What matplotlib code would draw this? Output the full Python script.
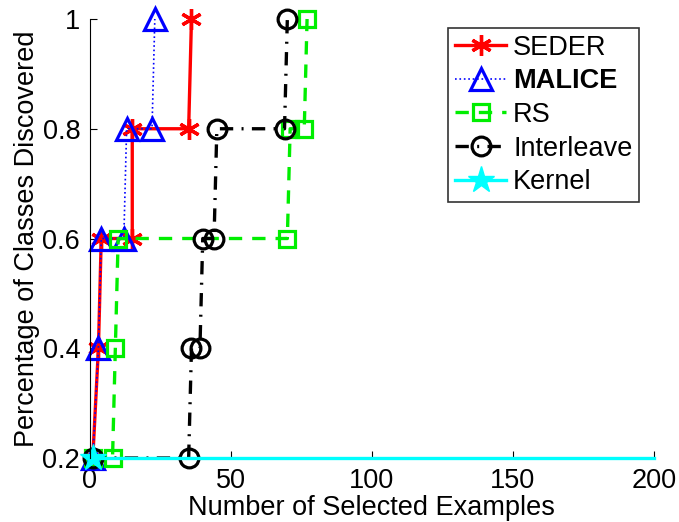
import matplotlib
matplotlib.use("Agg")
import matplotlib.pyplot as plt

plt.rcParams['font.family'] = ['Liberation Sans', 'DejaVu Sans']

# Data
seder_x = [1, 3, 4, 15, 15, 35, 36]
seder_y = [0.2, 0.4, 0.6, 0.6, 0.8, 0.8, 1.0]
malice_x = [1, 3, 4, 12, 13, 22, 23]
malice_y = [0.2, 0.4, 0.6, 0.6, 0.8, 0.8, 1.0]
rs_x = [1, 8, 9, 10, 70, 71, 76, 77]
rs_y = [0.2, 0.2, 0.4, 0.6, 0.6, 0.8, 0.8, 1.0]
inter_x = [1, 35, 36, 39, 40, 44, 45, 69, 70]
inter_y = [0.2, 0.2, 0.4, 0.4, 0.6, 0.6, 0.8, 0.8, 1.0]
kernel_x = [1, 200]
kernel_y = [0.2, 0.2]

xticks = [0, 50, 100, 150, 200]
yticks = [0.2, 0.4, 0.6, 0.8, 1.0]
yticklabels = ["0.2", "0.4", "0.6", "0.8", "1"]

FS = 19.5

fig = plt.figure(figsize=(6.79, 5.22), dpi=100)
ax = fig.add_axes([0.1325, 0.1226, 0.8305, 0.841])

l1, = ax.plot(seder_x, seder_y, color='red', linestyle='-', linewidth=2.4,
              marker=(6, 2, 0), markersize=15, markeredgewidth=2.4,
              label='SEDER', clip_on=False)
l2, = ax.plot(malice_x, malice_y, color='blue', linestyle=':', linewidth=1.2,
              marker='^', markersize=16, markerfacecolor='none',
              markeredgewidth=2.3, label='MALICE', clip_on=False)
l3, = ax.plot(rs_x, rs_y, color='#00ee00', linestyle=(0, (4, 3)), linewidth=2.4,
              marker='s', markersize=11, markerfacecolor='none',
              markeredgewidth=2.3, label='RS', clip_on=False)
l4, = ax.plot(inter_x, inter_y, color='black', linestyle=(0, (4, 2.5, 0.6, 2.5)),
              linewidth=2.4, marker='o', markersize=13.5, markerfacecolor='none',
              markeredgewidth=2.3, label='Interleave', clip_on=False)
l5, = ax.plot(kernel_x, kernel_y, color='cyan', linestyle='-', linewidth=2.4,
              marker='*', markersize=20, markevery=[0],
              markeredgewidth=1, label='Kernel', clip_on=False)

ax.set_xlim(0, 200)
ax.set_ylim(0.2, 1.0)
ax.set_xticks(xticks)
ax.set_yticks(yticks)
ax.set_yticklabels(yticklabels)
ax.tick_params(direction='in', length=5, labelsize=FS, pad=7)
for s in ['top', 'right', 'bottom']:
    ax.spines[s].set_visible(False)
ax.spines['left'].set_linewidth(0.8)

ax.set_xlabel('Number of Selected Examples', fontsize=FS, labelpad=1)
ax.set_ylabel('Percentage of Classes Discovered', fontsize=FS, labelpad=2)

leg = ax.legend(handles=[l1, l2, l3, l4, l5], loc='upper left',
                bbox_to_anchor=(448 / 679, 1 - 28 / 522),
                bbox_transform=fig.transFigure,
                fontsize=FS, frameon=True, fancybox=False, edgecolor='black',
                handlelength=1.9, handletextpad=0.25, labelspacing=0.28,
                borderpad=0.25, borderaxespad=0)
leg.get_frame().set_linewidth(1.2)
for t in leg.get_texts():
    if t.get_text() == 'MALICE':
        t.set_fontweight('bold')

fig.savefig('out.png', dpi=100)
